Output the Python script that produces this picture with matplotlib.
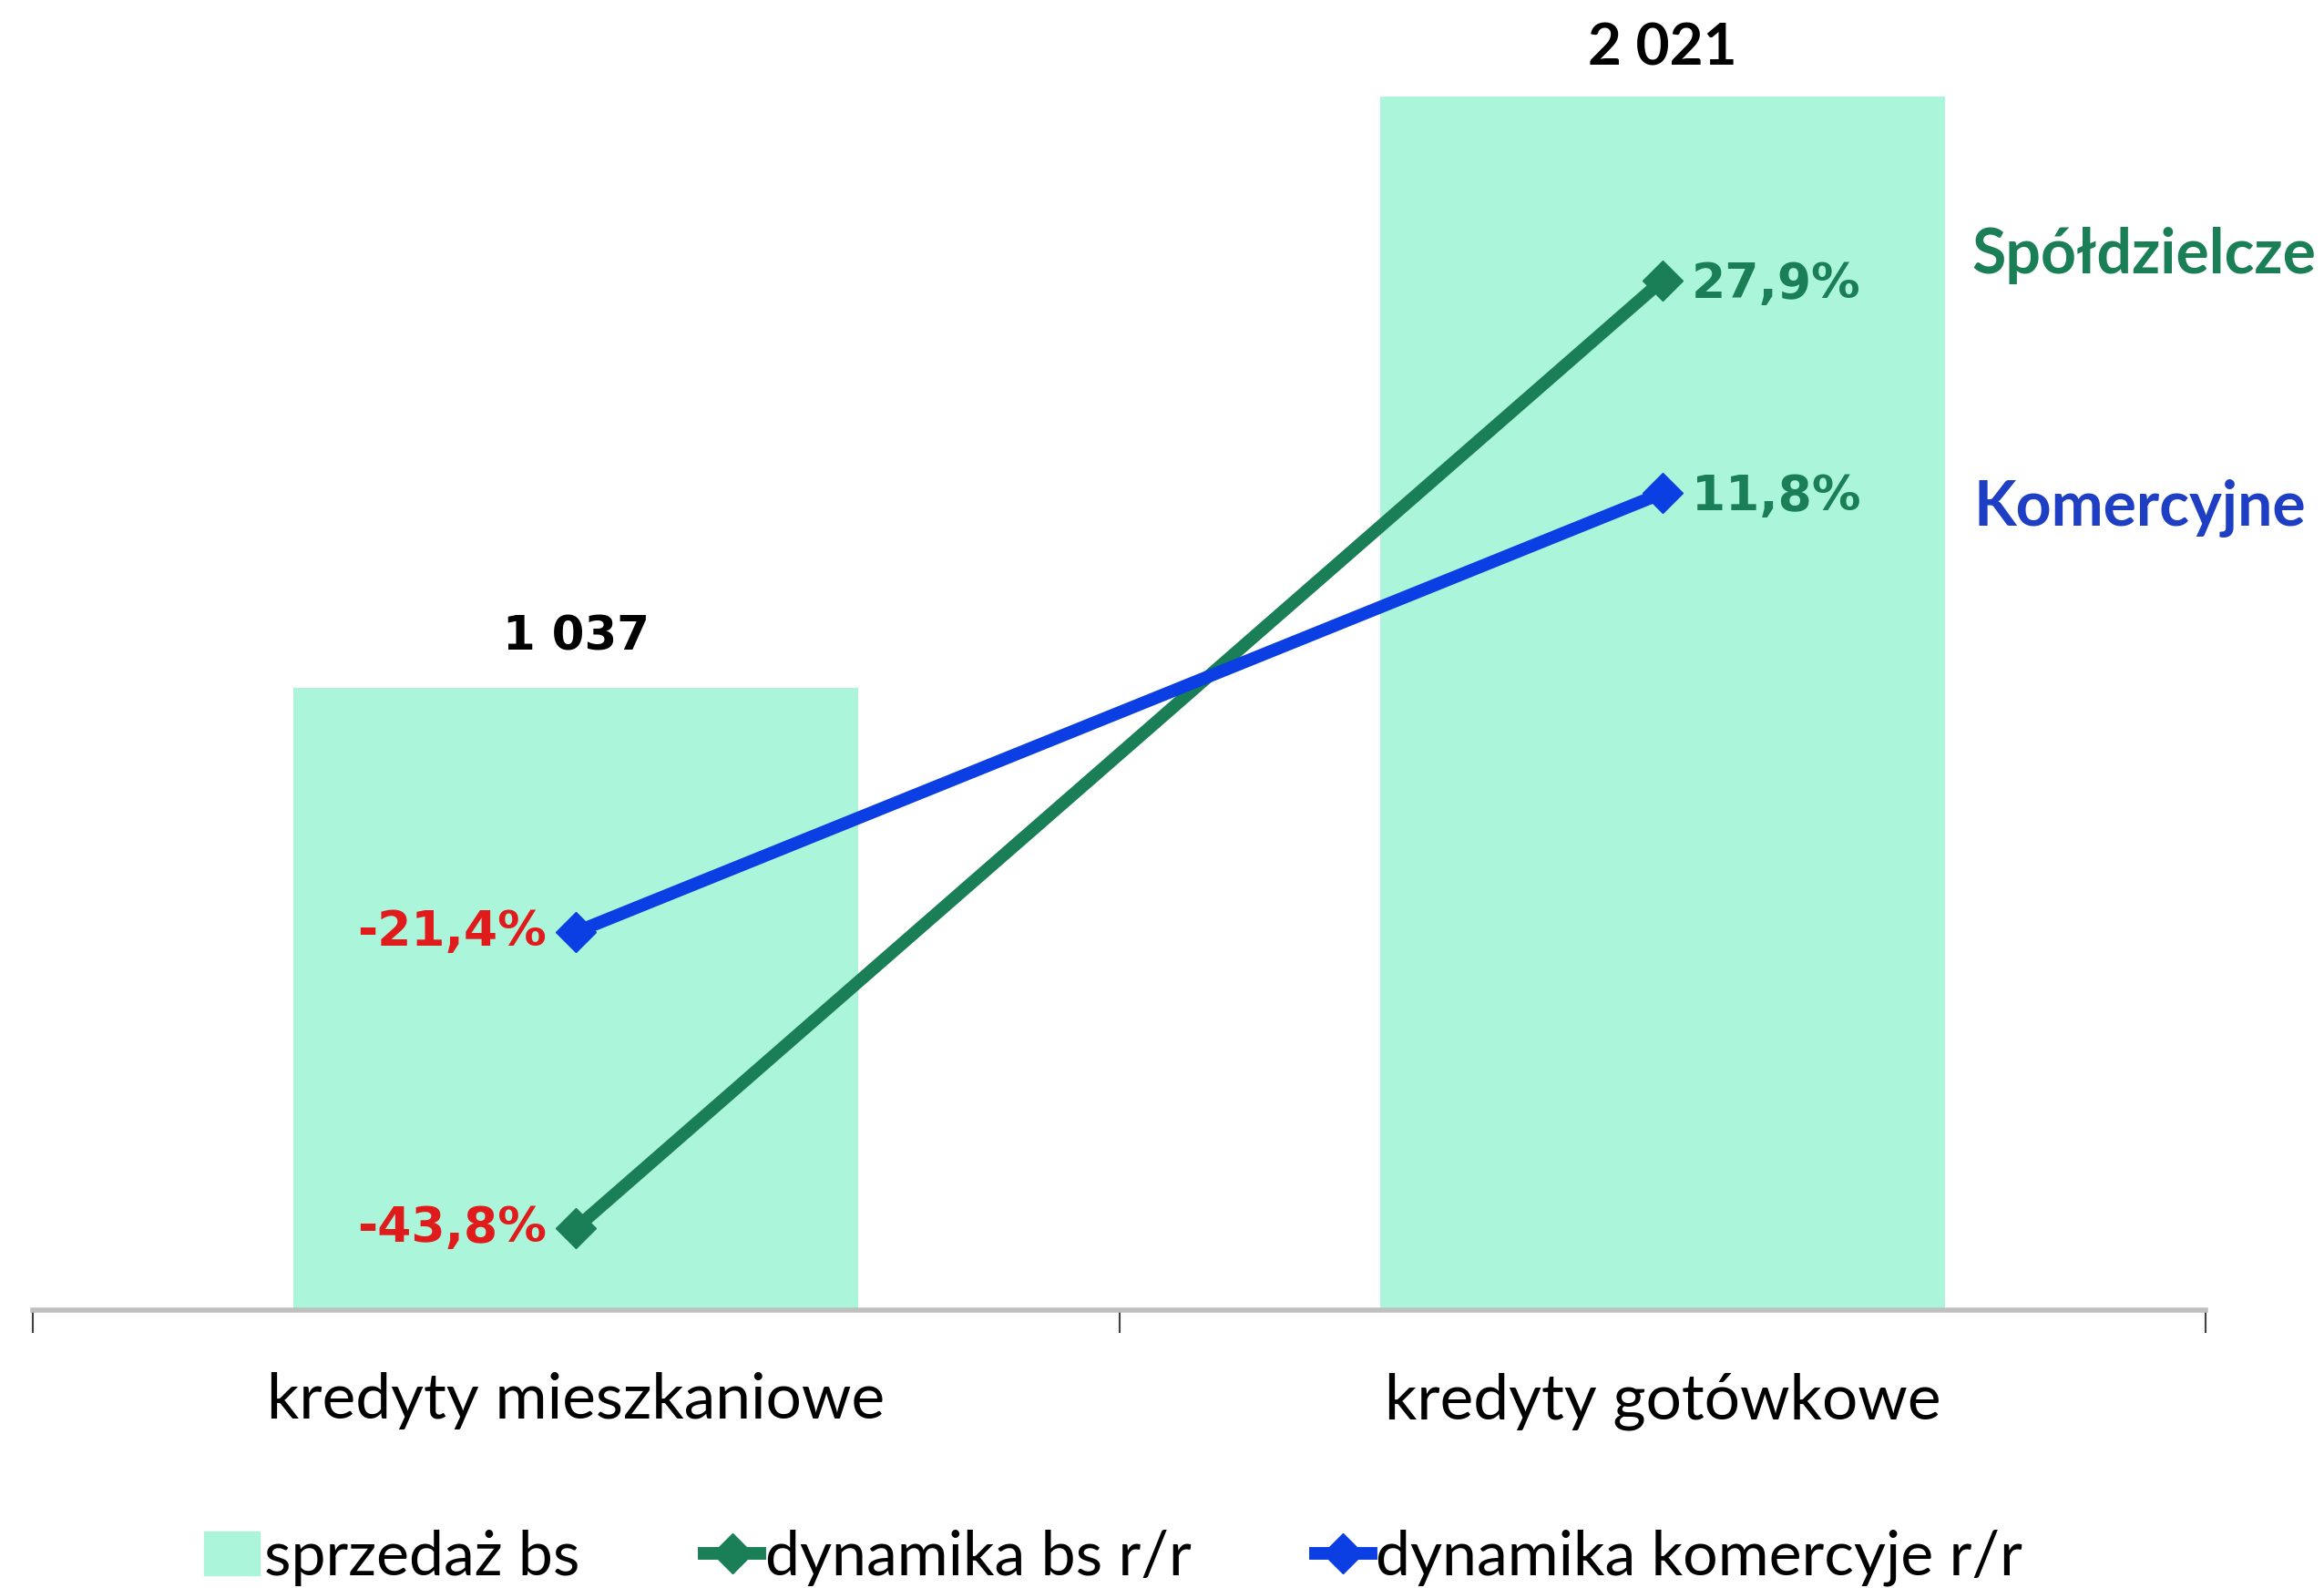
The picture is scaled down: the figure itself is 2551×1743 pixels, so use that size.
import matplotlib.pyplot as plt
from matplotlib.lines import Line2D
from matplotlib.patches import Patch

categories = ["kredyty mieszkaniowe", "kredyty gotówkowe"]
sprzedaz_bs = [1037, 2021]
sprzedaz_labels = ["1 037", "2 021"]
dyn_bs = [-43.8, 27.9]
dyn_kom = [-21.4, 11.8]
dyn_bs_labels = ["-43,8%", "27,9%"]
dyn_kom_labels = ["-21,4%", "11,8%"]

bar_col = "#ABF5DA"
green = "#1A7F56"
blue = "#0B3FE3"
red = "#E01B1B"

fig = plt.figure(figsize=(25.51, 17.43), dpi=100)
ax = fig.add_axes([0.0141, 0.175, 0.935, 0.825])
ax2 = ax.twinx()

x = list(range(len(categories)))
ax.bar(x, sprzedaz_bs, width=0.52, color=bar_col, zorder=1)
ax.set_xlim(-0.5, 1.5)
ax.set_ylim(0, 2182)
ax2.set_ylim(-50, 49.1)

ax2.plot(x, dyn_bs, color=green, lw=10, marker="D", ms=22, zorder=3)
ax2.plot(x, dyn_kom, color=blue, lw=10, marker="D", ms=22, zorder=3)

# value labels on bars
ax.annotate(sprzedaz_labels[0], (0, sprzedaz_bs[0]), xytext=(0, 40), textcoords="offset points",
            ha="center", va="center", fontsize=37, fontweight="bold", family="DejaVu Sans")
ax.annotate(sprzedaz_labels[1], (1, sprzedaz_bs[1]), xytext=(0, 38), textcoords="offset points",
            ha="center", va="center", fontsize=46, fontweight="bold", family="Lato")

# percent labels
ax2.annotate(dyn_bs_labels[0], (0, dyn_bs[0]), xytext=(-23, 0), textcoords="offset points",
             ha="right", va="center", fontsize=38.5, fontweight="bold", color=red)
ax2.annotate(dyn_kom_labels[0], (0, dyn_kom[0]), xytext=(-23, 0), textcoords="offset points",
             ha="right", va="center", fontsize=38.5, fontweight="bold", color=red)
ax2.annotate(dyn_bs_labels[1], (1, dyn_bs[1]), xytext=(23, -3), textcoords="offset points",
             ha="left", va="center", fontsize=38.5, fontweight="bold", color=green)
ax2.annotate(dyn_kom_labels[1], (1, dyn_kom[1]), xytext=(23, -3), textcoords="offset points",
             ha="left", va="center", fontsize=38.5, fontweight="bold", color=green)

fig.text(2164 / 2551, 1 - 280 / 1743, "Spółdzielcze", fontsize=49, fontweight="bold",
         family="Lato", color=green, ha="left", va="center")
fig.text(2167 / 2551, 1 - 558 / 1743, "Komercyjne", fontsize=49, fontweight="bold",
         family="Lato", color="#1E3FC4", ha="left", va="center")

# axes styling
for a in (ax, ax2):
    for s in ("top", "left", "right"):
        a.spines[s].set_visible(False)
    a.set_yticks([])
ax2.spines["bottom"].set_visible(False)
ax.spines["bottom"].set_color("#BFBFBF")
ax.spines["bottom"].set_linewidth(4)
ax.set_xticks(x)
ax.set_xticklabels(categories, fontsize=50, family="Lato")
ax.tick_params(axis="x", which="major", length=0, pad=49)
ax.set_xticks([-0.5, 0.5, 1.5], minor=True)
ax.tick_params(axis="x", which="minor", length=18, width=1.5, color="#404040", direction="out")

handles = [
    Patch(color=bar_col),
    Line2D([0], [0], color=green, lw=10, marker="D", ms=22),
    Line2D([0], [0], color=blue, lw=10, marker="D", ms=22),
]
fig.legend(handles, ["sprzedaż bs", "dynamika bs r/r", "dynamika komercyje r/r"],
           loc="center", bbox_to_anchor=(0.479, 1 - 1710 / 1743), ncol=3, frameon=False,
           prop={"family": "Lato", "size": 49}, handlelength=0.9, handletextpad=0.08,
           columnspacing=2.0, borderpad=0)

plt.savefig("out.png", dpi=100)
